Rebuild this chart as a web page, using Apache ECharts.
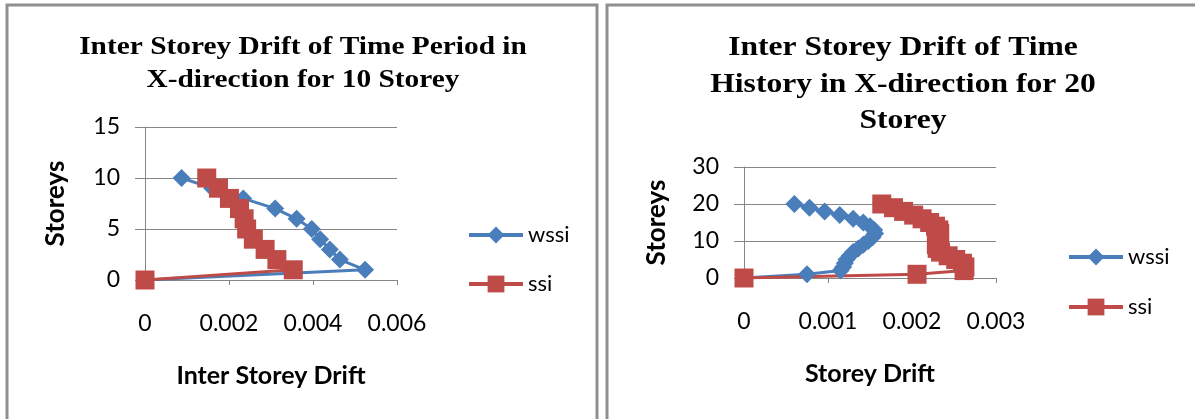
<!DOCTYPE html>
<html>
<head>
<meta charset="utf-8">
<script src="https://cdn.jsdelivr.net/npm/echarts@6/dist/echarts.min.js"></script>
<style>
html,body{margin:0;padding:0;background:#fff;}
#chart{width:1195px;height:419px;}
</style>
</head>
<body>
<div id="chart"></div>
<script>
// ---- data ----
const storeys10 = [0, 1, 2, 3, 4, 5, 6, 7, 8, 9, 10];
const wssi10 = [0, 0.00524, 0.00464, 0.00440, 0.00417, 0.00397, 0.00361, 0.00310, 0.00234, 0.00160, 0.00087];
const ssi10  = [0, 0.00353, 0.00314, 0.00286, 0.00258, 0.00242, 0.00236, 0.00225, 0.00201, 0.00175, 0.00147];

const storeys20 = [0, 1, 2, 3, 4, 5, 6, 7, 8, 9, 10, 11, 12, 13, 14, 15, 16, 17, 18, 19, 20];
const wssi20 = [0, 0.00075, 0.00115, 0.00118, 0.00120, 0.00122, 0.00126, 0.00130, 0.00136, 0.00142, 0.00148,
                0.00153, 0.00156, 0.00155, 0.00150, 0.00142, 0.00130, 0.00114, 0.00096, 0.00078, 0.00060];
const ssi20  = [0, 0.00206, 0.00262, 0.00263, 0.00260, 0.00252, 0.00243, 0.00234, 0.00230, 0.00229, 0.00230,
                0.00232, 0.00233, 0.00232, 0.00228, 0.00221, 0.00212, 0.00202, 0.00190, 0.00178, 0.00164];

const seriesNames = ['wssi', 'ssi'];
const title1 = 'Inter Storey Drift of Time Period in\nX-direction for 10 Storey';
const title2 = 'Inter Storey Drift of Time\nHistory in X-direction for 20\nStorey';
const xName1 = 'Inter Storey Drift';
const xName2 = 'Storey Drift';
const yName = 'Storeys';

// ---- styling ----
const BLUE = '#4a7ebb';
const RED = '#be4b48';
const AXIS = '#868686';
const LBL = "Lato, sans-serif";
const TITLE_FONT = "'Liberation Serif', 'Times New Roman', serif";

function pairs(xs, ys) { return xs.map((x, i) => [x, ys[i]]); }
function fmt(v) { return v === 0 ? '0' : v.toFixed(3); }

function xAxis(gi, max, interval, name) {
  return {
    type: 'value', gridIndex: gi, min: 0, max: max, interval: interval,
    name: name, nameLocation: 'middle', nameGap: 83,
    nameTextStyle: { fontFamily: LBL, fontWeight: 'bold', fontSize: 25, color: '#000' },
    axisLine: { show: true, onZero: false, lineStyle: { color: AXIS, width: 1 } },
    axisTick: { show: true, length: 5, lineStyle: { color: AXIS } },
    axisLabel: { formatter: fmt, margin: 32, fontFamily: LBL, fontSize: 23, color: '#000' },
    splitLine: { show: false }
  };
}
function yAxis(gi, max, interval, nameGap) {
  return {
    type: 'value', gridIndex: gi, min: 0, max: max, interval: interval,
    name: yName, nameLocation: 'middle', nameGap: nameGap, nameRotate: 90,
    nameTextStyle: { fontFamily: LBL, fontWeight: 'bold', fontSize: 26, color: '#000' },
    axisLine: { show: true, lineStyle: { color: AXIS, width: 1 } },
    axisTick: { show: true, length: 10, lineStyle: { color: AXIS } },
    axisLabel: { margin: 25, fontFamily: LBL, fontSize: 23, color: '#000' },
    splitLine: { show: true, lineStyle: { color: AXIS, width: 1 } }
  };
}
function line(name, data, gi, color, symbol, size) {
  return {
    name: name, type: 'line', xAxisIndex: gi, yAxisIndex: gi, data: data,
    symbol: symbol, symbolSize: size, smooth: false,
    lineStyle: { color: color, width: 3 },
    itemStyle: { color: color },
    emphasis: { disabled: true }, animation: false
  };
}
function titleText(text, cx, top, size, lh, sx) {
  return {
    type: 'text', x: cx, y: top, scaleX: sx, silent: true,
    style: { text: text, fontFamily: TITLE_FONT, fontWeight: 'bold', fontSize: size,
             lineHeight: lh, fill: '#000', align: 'center', verticalAlign: 'top' }
  };
}
function legend(left, top, gap) {
  return {
    data: seriesNames, orient: 'vertical', left: left, top: top,
    itemWidth: 54, itemHeight: 21, itemGap: gap,
    lineStyle: { width: 4 },
    textStyle: { fontFamily: LBL, fontSize: 22, color: '#000' }, selectedMode: false
  };
}

const chart = echarts.init(document.getElementById('chart'), null, { renderer: 'canvas' });
chart.setOption({
  backgroundColor: '#fff',
  animation: false,
  graphic: [
    { type: 'rect', shape: { x: 7, y: 5, width: 590, height: 600 },
      style: { fill: 'none', stroke: '#8f8f8f', lineWidth: 3 }, z: -1 },
    { type: 'rect', shape: { x: 607, y: 5, width: 600, height: 600 },
      style: { fill: 'none', stroke: '#8f8f8f', lineWidth: 3 }, z: -1 },
    titleText(title1, 303, 31, 26, 33, 1.13),
    titleText(title2, 903, 30, 27, 36.5, 1.17)
  ],
  legend: [ legend(462, 219, 27), legend(1062, 241, 28) ],
  grid: [
    { left: 145, top: 127, width: 252, height: 153 },
    { left: 744, top: 167, width: 252, height: 111 }
  ],
  xAxis: [ xAxis(0, 0.006, 0.002, xName1), xAxis(1, 0.003, 0.001, xName2) ],
  yAxis: [ yAxis(0, 15, 5, 76), yAxis(1, 30, 10, 74) ],
  series: [
    line('wssi', pairs(wssi10, storeys10), 0, BLUE, 'diamond', 18),
    line('ssi', pairs(ssi10, storeys10), 0, RED, 'rect', 19),
    line('wssi', pairs(wssi20, storeys20), 1, BLUE, 'diamond', 18),
    line('ssi', pairs(ssi20, storeys20), 1, RED, 'rect', 19)
  ]
});
</script>
</body>
</html>
